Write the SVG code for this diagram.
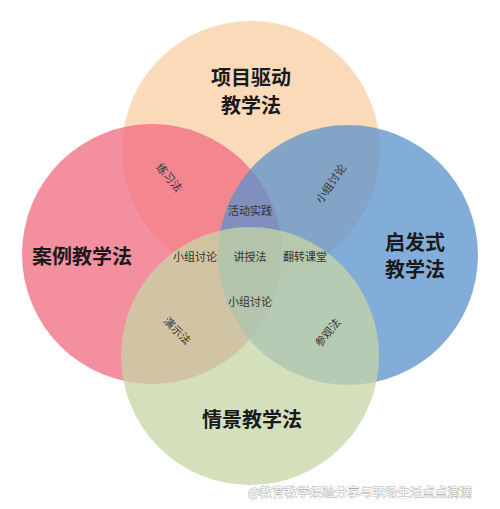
<svg xmlns="http://www.w3.org/2000/svg" width="500" height="509" viewBox="0 0 500 509">
<style>
.c{fill-opacity:0.75}
.t{font-family:"Noto Sans CJK SC","Noto Sans",sans-serif;font-weight:700;font-size:20px;fill:#1a1a1a;text-anchor:middle;dominant-baseline:central}
.s{font-family:"Noto Sans CJK SC","Noto Sans",sans-serif;font-size:11px;fill:#333;text-anchor:middle;dominant-baseline:central}
.w{font-family:"Noto Sans CJK SC","Noto Sans",sans-serif;font-size:12.5px;fill:#fff;stroke:#aaa;stroke-width:0.8;paint-order:stroke}
</style>
<rect width="500" height="509" fill="#fff"/>
<g id="top"><circle class="c" cx="251" cy="150" r="129" fill="#F8CEA2"/></g>
<g id="left"><circle class="c" cx="152" cy="254" r="130" fill="#F06A80"/></g>
<g id="right"><circle class="c" cx="348" cy="255" r="130" fill="#5A92CC"/></g>
<g id="bottom"><circle class="c" cx="250" cy="356" r="129" fill="#C6D5A6"/></g>
<g id="labels">
<text class="t" x="251" y="76">项目驱动</text>
<text class="t" x="251" y="104">教学法</text>
<text class="t" x="82" y="255">案例教学法</text>
<text class="t" x="415" y="241">启发式</text>
<text class="t" x="415" y="268">教学法</text>
<text class="t" x="252" y="418">情景教学法</text>
<text class="s" transform="translate(170,177) rotate(50)">练习法</text>
<text class="s" transform="translate(330,183) rotate(-55)">小组讨论</text>
<text class="s" x="250" y="210">活动实践</text>
<text class="s" x="195" y="256">小组讨论</text>
<text class="s" x="250" y="256">讲授法</text>
<text class="s" x="305" y="256">翻转课堂</text>
<text class="s" x="250" y="301">小组讨论</text>
<text class="s" transform="translate(178,330) rotate(45)">演示法</text>
<text class="s" transform="translate(327,332) rotate(-50)">参观法</text>
<text class="w" x="248" y="497">@教育教学经验分享与职场生活点点滴滴</text>
</g>
</svg>
